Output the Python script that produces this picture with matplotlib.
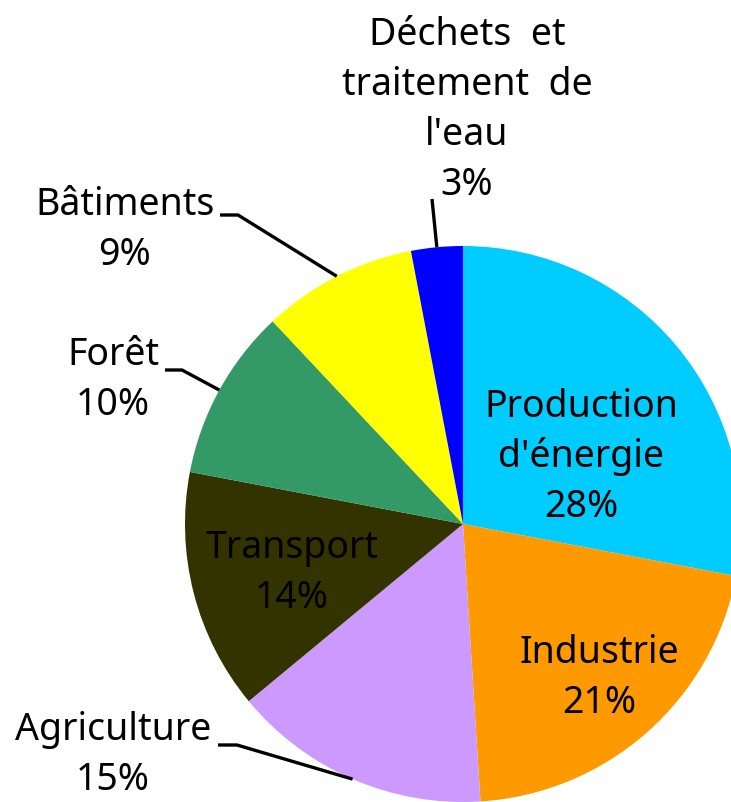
import numpy as np
import matplotlib.pyplot as plt

# Données (émissions par secteur, %)
secteurs = ["Production\nd'énergie", "Industrie", "Agriculture", "Transport",
            "Forêt", "Bâtiments", "Déchets  et\ntraitement  de\nl'eau"]
valeurs = [28, 21, 15, 14, 10, 9, 3]
couleurs = ['#00CCFF', '#FF9900', '#CC99FF', '#333300', '#339966', '#FFFF00', '#0000FF']

W, H = 731, 802
cx, cy, R = 463, 524, 278   # centre et rayon en pixels (y vers le bas)

# position du texte (centre du bloc, en pixels image) et coude de la ligne de rappel
pos_txt = [(581, 457), (599, 678), (113, 755), (292, 573), (113, 380), (125, 230), (467, 110)]
coude = [None, None, (218, 745), None, (165, 370), (220, 215), (432, 199)]
coude2 = [None, None, (237, 745), None, (182, 370), (238, 215), None]

fig = plt.figure(figsize=(W / 100, H / 100), dpi=100)
ax = fig.add_axes([0, 0, 1, 1])

wedges, _ = ax.pie(valeurs, colors=couleurs, startangle=90, counterclock=False,
                   radius=R, center=(cx, H - cy), frame=True,
                   wedgeprops=dict(linewidth=0))
ax.set_xlim(0, W)
ax.set_ylim(0, H)
ax.set_aspect('equal')
ax.axis('off')

fs = 27
for i, w in enumerate(wedges):
    txt = f'{secteurs[i]}\n{valeurs[i]}%'
    lignes = txt.split('\n')
    x0, y0 = pos_txt[i]
    n = len(lignes)
    for j, l in enumerate(lignes):
        yy = y0 + (j - (n - 1) / 2) * 50
        ax.text(x0, H - yy, l, ha='center', va='center', fontsize=fs,
                family=['Noto Sans', 'DejaVu Sans'], color='black')
    # ligne de rappel vers le milieu de l'arc
    if coude[i] is not None:
        ang = np.deg2rad((w.theta1 + w.theta2) / 2)
        px, py = cx + R * np.cos(ang), H - cy + R * np.sin(ang)
        pts = [coude[i]]
        if coude2[i] is not None:
            pts.append(coude2[i])
        xs = [p[0] for p in pts] + [px]
        ys = [H - p[1] for p in pts] + [py]
        ax.plot(xs, ys, color='black', lw=2.4, solid_capstyle='butt')

plt.savefig('out.png', dpi=100)
